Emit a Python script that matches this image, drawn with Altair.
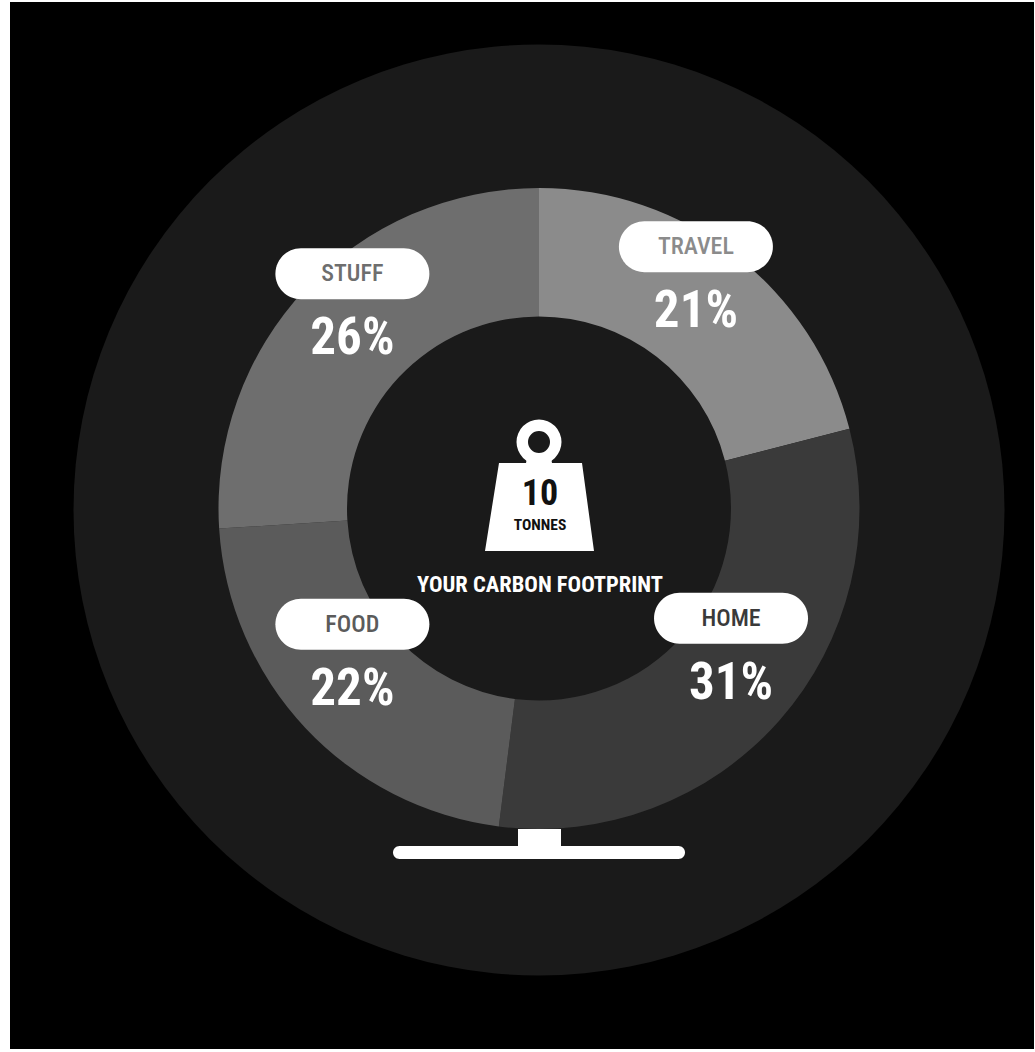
import math
import altair as alt
import pandas as pd

# Carbon footprint shares, clockwise from twelve o'clock
categories = ["TRAVEL", "HOME", "FOOD", "STUFF"]
shares = [21, 31, 22, 26]
shade = ["#8b8b8b", "#3a3a3a", "#5b5b5b", "#6e6e6e"]
total_tonnes = "10"

W, H = 1035, 1052
CX, CY = 539, 508.5
R_OUT, R_IN = 320.5, 192
R_LABEL = 256
PILL_W, PILL_H = 154, 51
FONT = "Roboto Condensed"

rows = []
running = 0
for name, share, col in zip(categories, shares, shade):
    mid = (running + share / 2) / 100 * 2 * math.pi
    x, y = CX + R_LABEL * math.sin(mid), CY - R_LABEL * math.cos(mid)
    rows.append(dict(name=name, share=share, pct=f"{share}%", col=col, start=running,
                     end=running + share, cx=x, pill_x=x - PILL_W / 2, pill_x2=x + PILL_W / 2,
                     pill_y=y - 59.5 - PILL_H / 2, pill_y2=y - 59.5 + PILL_H / 2,
                     pill_mid=y - 59, pct_y=y + 6))
    running += share
df = pd.DataFrame(rows)

xs = alt.Scale(domain=[0, W], range=[0, W])
ys = alt.Scale(domain=[0, H], range=[0, H])
X = lambda f: alt.X(f, type="quantitative", scale=xs, axis=None)
Y = lambda f: alt.Y(f, type="quantitative", scale=ys, axis=None)
one = pd.DataFrame({"k": [0]})


def box(x, x2, y, y2, color, radius=0):
    frame = pd.DataFrame({"x": [x], "x2": [x2], "y": [y], "y2": [y2]})
    return alt.Chart(frame).mark_rect(color=color, cornerRadius=radius).encode(
        x=X("x"), x2="x2", y=Y("y"), y2="y2")


def label(text, x, y, size, color="white", weight="bold"):
    frame = pd.DataFrame({"x": [x], "y": [y], "t": [text]})
    return alt.Chart(frame).mark_text(font=FONT, fontSize=size, fontWeight=weight, color=color,
                                      baseline="middle", align="center").encode(
        x=X("x"), y=Y("y"), text="t:N")


backdrop = box(10, 1034, 2, 1049, "#000000")
disk = alt.Chart(one).mark_arc(theta=0, theta2=2 * math.pi, radius=465.5, color="#1a1a1a").encode(
    x=alt.value(539), y=alt.value(510))

slices = alt.Chart(df).mark_arc(radius=R_OUT, radius2=R_IN).encode(
    theta=alt.Theta("start:Q", scale=alt.Scale(domain=[0, 100], range=[0, 2 * math.pi])),
    theta2="end:Q",
    color=alt.Color("col:N", scale=None),
    x=alt.value(CX), y=alt.value(CY),
)

pills = alt.Chart(df).mark_rect(color="white", cornerRadius=25.5).encode(
    x=X("pill_x"), x2="pill_x2", y=Y("pill_y"), y2="pill_y2")
pill_text = alt.Chart(df).mark_text(font=FONT, fontSize=24, fontWeight=500, baseline="middle", align="center").encode(
    x=X("cx"), y=Y("pill_mid"), text="name:N", color=alt.Color("col:N", scale=None))
pct_text = alt.Chart(df).mark_text(font=FONT, fontSize=51, fontWeight="bold", color="white",
                                   baseline="middle", align="center").encode(
    x=X("cx"), y=Y("pct_y"), text="pct:N")

# Weight icon in the middle of the ring
ring = alt.Chart(one).mark_arc(theta=0, theta2=2 * math.pi, radius=22.5, radius2=11, color="white").encode(
    x=alt.value(539), y=alt.value(442))
body_shape = pd.DataFrame({"y": [458, 463, 463, 551],
                           "left": [527, 526, 499, 485],
                           "right": [551, 552, 582, 594]})
body = alt.Chart(body_shape).mark_area(orient="horizontal", color="white").encode(
    y=Y("y"), x=X("left"), x2="right")

# Stand under the ring
stem = box(518, 561, 829, 850, "white")
base = box(393, 685, 846, 859, "white", radius=6.5)

chart = alt.layer(
    backdrop, disk, slices, pills, pill_text, pct_text, ring, body,
    label(total_tonnes, 540, 494, 36, color="#111111"),
    label("TONNES", 540, 525, 15.5, color="#111111"),
    label("YOUR CARBON FOOTPRINT", 540, 585, 22.5),
    stem, base,
).properties(width=W, height=H, padding=0, autosize=alt.AutoSizeParams(type="none"), background="#ffffff"
).configure_view(stroke=None)

chart.save("out.html", embed_options={"renderer": "svg", "actions": False})
